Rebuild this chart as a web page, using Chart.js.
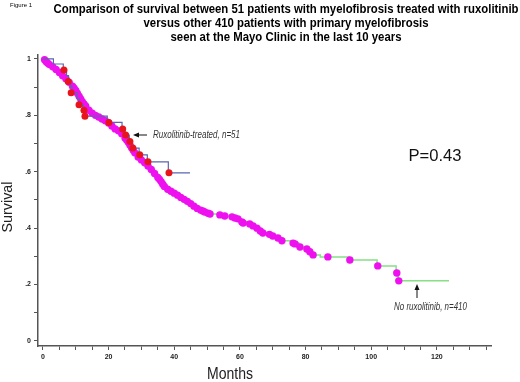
<!DOCTYPE html>
<html>
<head>
<meta charset="utf-8">
<script src="https://cdn.jsdelivr.net/npm/chart.js@4.4.1/dist/chart.umd.min.js"></script>
<style>
  html, body { margin: 0; padding: 0; background: #fff; }
  #wrap { width: 520px; height: 382px; }
</style>
</head>
<body>
<div id="wrap"><canvas id="km" width="520" height="382"></canvas></div>
<script>
// Ruxolitinib-treated (n=51): step times (months) and survival after each step
const ruxTimes = [0, 3.2, 6.2, 7.2, 7.8, 8.4, 8.9, 10.4, 11.0, 12.3, 12.8, 19.6, 24.1, 25.0, 26.3, 27.2, 29.3, 31.8, 38.2, 44.8];
const ruxSurv = [1.0, 0.982, 0.961, 0.941, 0.920, 0.900, 0.880, 0.859, 0.838, 0.818, 0.797, 0.775, 0.752, 0.730, 0.707, 0.684, 0.660, 0.635, 0.596, 0.596];
// censored marks (red dots)
const ruxCensorTimes = [6.4, 7.7, 8.6, 11.0, 12.5, 12.8, 20.1, 24.3, 25.2, 26.5, 27.4, 29.5, 32.0, 38.4];
const ruxCensorSurv = [0.961, 0.920, 0.880, 0.838, 0.818, 0.797, 0.775, 0.752, 0.730, 0.707, 0.684, 0.660, 0.635, 0.596];

// No ruxolitinib (n=410)
const noRuxTimes = [0, 1, 2, 3, 4, 5, 6, 7, 8, 9, 10, 11, 12, 13, 14, 15, 16, 17, 18, 19, 20,
  21, 22, 23, 24, 25, 26, 27, 28, 29, 30, 31, 32, 33, 34, 35, 36, 37, 38, 39, 40,
  41, 42, 43, 44, 45, 46, 47, 48, 49, 50, 50.9, 53.5, 55, 57.3, 58.4, 59.3, 60.4, 62.8, 63.8,
  65, 66, 67, 68.8, 70, 71.4, 72.6, 76, 78, 80.2, 81.1, 82.1, 84.5, 93.3, 101.8, 107.6, 108.2, 123.7];
const noRuxSurv = [1.0, 0.99, 0.98, 0.972, 0.963, 0.952, 0.94, 0.93, 0.917, 0.903, 0.888, 0.868, 0.848, 0.833, 0.818, 0.808, 0.80, 0.794, 0.787, 0.781, 0.773,
  0.762, 0.752, 0.745, 0.735, 0.72, 0.705, 0.685, 0.667, 0.652, 0.642, 0.632, 0.62, 0.608, 0.594, 0.58, 0.565, 0.548, 0.538, 0.531, 0.524,
  0.517, 0.509, 0.502, 0.495, 0.487, 0.478, 0.47, 0.464, 0.459, 0.453, 0.45, 0.447, 0.443, 0.44, 0.436, 0.433, 0.422, 0.415, 0.408,
  0.40, 0.39, 0.383, 0.378, 0.372, 0.365, 0.355, 0.347, 0.333, 0.326, 0.316, 0.305, 0.298, 0.287, 0.266, 0.241, 0.213, 0.213];
// censored marks (magenta dots)
const noRuxCensorTimes = [0.5, 1, 1.5, 2, 3, 4, 5, 6, 7, 8, 9, 9.5, 10, 10.5, 11, 11.5, 12, 12.5, 13, 14, 15, 16, 17, 18, 19, 20,
  21, 22, 23, 24, 25, 25.5, 26, 26.5, 27, 27.5, 28, 29, 30, 31, 32, 33, 34, 35, 35.5, 36, 36.5, 37, 38, 39, 40,
  41, 42, 43, 44, 45, 46, 47, 48, 48.7, 49.3, 50.3, 50.9, 53.9, 55.4, 57.6, 58.5, 59.4, 60.6, 61, 63, 64,
  65.2, 66.2, 67, 69, 70, 71.6, 72.8, 76.2, 76.8, 78.3, 80.4, 81.3, 82.3, 86.8, 93.5, 102, 107.8, 108.4];
const noRuxCensorSurv = [0.997, 0.99, 0.985, 0.98, 0.972, 0.963, 0.952, 0.94, 0.93, 0.917, 0.903, 0.896, 0.888, 0.878, 0.868, 0.858, 0.848, 0.84, 0.833, 0.818, 0.808, 0.80, 0.794, 0.787, 0.781, 0.773,
  0.762, 0.752, 0.745, 0.735, 0.72, 0.713, 0.705, 0.695, 0.685, 0.676, 0.667, 0.652, 0.642, 0.632, 0.62, 0.608, 0.594, 0.58, 0.573, 0.565, 0.556, 0.548, 0.538, 0.531, 0.524,
  0.517, 0.509, 0.502, 0.495, 0.487, 0.478, 0.47, 0.464, 0.461, 0.457, 0.453, 0.45, 0.447, 0.443, 0.44, 0.436, 0.433, 0.422, 0.418, 0.415, 0.408,
  0.40, 0.39, 0.383, 0.378, 0.372, 0.365, 0.355, 0.347, 0.344, 0.333, 0.326, 0.316, 0.305, 0.298, 0.287, 0.266, 0.241, 0.213];

// ticks
const xTickValues = [0, 5, 10, 15, 20, 25, 30, 35, 40, 45, 50, 55, 60, 65, 70, 75, 80, 85, 90, 95, 100, 105, 110, 115, 120, 125, 130, 135];
const xTickLabels = ["0", "", "", "", "20", "", "", "", "40", "", "", "", "60", "", "", "", "80", "", "", "", "100", "", "", "", "120", "", "", ""];
const yTickValues = [0, 0.1, 0.2, 0.3, 0.4, 0.5, 0.6, 0.7, 0.8, 0.9, 1.0];
const yTickLabels = ["0", "", ".2", "", ".4", "", ".6", "", ".8", "", "1"];

const titleLines = [
  "Comparison of survival between 51 patients with myelofibrosis treated with ruxolitinib",
  "versus other 410 patients with primary myelofibrosis",
  "seen at the Mayo Clinic in the last 10 years",
];

const toPoints = (xs, ys) => xs.map((x, i) => ({ x: x, y: ys[i] }));

const tickFont = { family: "Arial, 'Liberation Sans', sans-serif", size: 7, weight: "bold" };

// draws text squeezed horizontally so it spans the given width
const drawFitted = (ctx, text, x, y, width, font, align) => {
  ctx.save();
  ctx.font = font;
  const w = ctx.measureText(text).width;
  const sx = width / w;
  const left = align === "center" ? x - width / 2 : x;
  ctx.translate(left, y);
  ctx.scale(sx, 1);
  ctx.textAlign = "left";
  ctx.textBaseline = "middle";
  ctx.fillText(text, 0, 0);
  ctx.restore();
};

const annotations = {
  id: "annotations",
  afterDraw(chart) {
    const ctx = chart.ctx;
    ctx.save();
    ctx.fillStyle = "#000";
    const ff = "Arial, 'Liberation Sans', sans-serif";
    drawFitted(ctx, "Figure 1", 10, 5, 22, `6px ${ff}`, "left");
    drawFitted(ctx, titleLines[0], 286, 10, 465, `bold 12px ${ff}`, "center");
    drawFitted(ctx, titleLines[1], 286, 24, 285, `bold 12px ${ff}`, "center");
    drawFitted(ctx, titleLines[2], 286, 38, 231, `bold 12px ${ff}`, "center");

    ctx.fillStyle = "#111";
    drawFitted(ctx, "P=0.43", 435, 157, 53, `16px ${ff}`, "center");

    ctx.fillStyle = "#333";
    drawFitted(ctx, "Ruxolitinib-treated, n=51", 153, 135, 87, `italic 10px ${ff}`, "left");
    drawFitted(ctx, "No ruxolitinib, n=410", 394, 307, 73, `italic 10px ${ff}`, "left");

    ctx.fillStyle = "#222";
    drawFitted(ctx, "Months", 230, 375, 46, `16px ${ff}`, "center");
    ctx.save();
    ctx.translate(8, 207);
    ctx.rotate(-Math.PI / 2);
    drawFitted(ctx, "Survival", 0, 0, 51, `15px ${ff}`, "center");
    ctx.restore();

    // arrows
    ctx.strokeStyle = "#111";
    ctx.fillStyle = "#111";
    ctx.lineWidth = 1;
    ctx.beginPath();
    ctx.moveTo(147, 135);
    ctx.lineTo(137, 135);
    ctx.stroke();
    ctx.beginPath();
    ctx.moveTo(133, 135);
    ctx.lineTo(139, 132.5);
    ctx.lineTo(139, 137.5);
    ctx.closePath();
    ctx.fill();

    ctx.beginPath();
    ctx.moveTo(417, 298);
    ctx.lineTo(417, 288);
    ctx.stroke();
    ctx.beginPath();
    ctx.moveTo(417, 284);
    ctx.lineTo(414.5, 290);
    ctx.lineTo(419.5, 290);
    ctx.closePath();
    ctx.fill();
    ctx.restore();
  },
};

const chart = new Chart(document.getElementById("km"), {
  type: "scatter",
  data: {
    datasets: [
      {
        label: "Ruxolitinib censored",
        data: toPoints(ruxCensorTimes, ruxCensorSurv),
        showLine: false,
        pointRadius: 3.5,
        pointBackgroundColor: "#e8141c",
        pointBorderWidth: 0,
        clip: false,
      },
      {
        label: "Ruxolitinib-treated",
        data: toPoints(ruxTimes, ruxSurv),
        showLine: true,
        stepped: true,
        borderColor: "#5a66b0",
        borderWidth: 1.2,
        pointRadius: 0,
        clip: false,
      },
      {
        label: "No ruxolitinib censored",
        data: toPoints(noRuxCensorTimes, noRuxCensorSurv),
        showLine: false,
        pointRadius: 3.7,
        pointBackgroundColor: "#ee10ee",
        pointBorderWidth: 0,
        clip: false,
      },
      {
        label: "No ruxolitinib",
        data: toPoints(noRuxTimes, noRuxSurv),
        showLine: true,
        stepped: true,
        borderColor: "#86e086",
        borderWidth: 1.5,
        pointRadius: 0,
        clip: false,
      },
    ],
  },
  options: {
    responsive: false,
    animation: false,
    devicePixelRatio: 1,
    layout: { padding: { top: 55, right: 29, left: 0, bottom: 0 } },
    plugins: {
      legend: { display: false },
      tooltip: { enabled: false },
      title: { display: false },
    },
    scales: {
      x: {
        type: "linear",
        min: -1.5,
        max: 136.5,
        afterBuildTicks: (scale) => {
          scale.ticks = xTickValues.map((v) => ({ value: v }));
        },
        afterFit: (scale) => {
          scale.height = 36;
        },
        ticks: {
          autoSkip: false,
          maxRotation: 0,
          padding: 3,
          color: "#222",
          font: tickFont,
          callback: (value, index) => xTickLabels[index],
        },
        grid: { drawOnChartArea: false, drawTicks: true, tickLength: 4, color: "#555" },
        border: { color: "#555", width: 1.5 },
      },
      y: {
        type: "linear",
        min: -0.018,
        max: 1.014,
        afterBuildTicks: (scale) => {
          scale.ticks = yTickValues.map((v) => ({ value: v }));
        },
        afterFit: (scale) => {
          scale.width = 38;
        },
        ticks: {
          autoSkip: false,
          padding: 3,
          color: "#222",
          font: tickFont,
          callback: (value, index) => yTickLabels[index],
        },
        grid: { drawOnChartArea: false, drawTicks: true, tickLength: 4, color: "#555" },
        border: { color: "#555", width: 1.5 },
      },
    },
  },
  plugins: [annotations],
});
</script>
</body>
</html>
